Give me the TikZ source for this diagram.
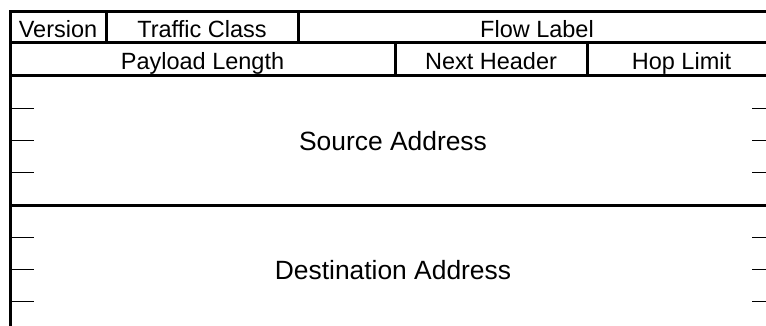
\documentclass[tikz,border=0pt]{standalone}
\usepackage{fontspec}
\setmainfont{Liberation Sans}
\usetikzlibrary{calc}
\begin{document}
\begin{tikzpicture}[x=1pt,y=-1pt,
  field/.style={draw, line width=3pt, rectangle, inner sep=0pt, outer sep=0pt, anchor=north west,
    text height=20pt, text depth=0pt, font=\fontsize{23.5}{28}\selectfont},
  addr/.style={field, font=\fontsize{26.4}{31}\selectfont},
  tickline/.style={line width=1.3pt}]
\useasboundingbox (0,0) rectangle (766,326);
\fill[white] (0,0) rectangle (766,326);
\clip (0,0) rectangle (766,326);
% row 1
\node[field, minimum width=96pt, minimum height=31pt] (ver) at (10,12) {Version};
\node[field, minimum width=192pt, minimum height=31pt] (tc) at (ver.north east) {Traffic Class};
\node[field, minimum width=478pt, minimum height=31pt] (fl) at (tc.north east) {Flow Label};
% row 2
\node[field, minimum width=385pt, minimum height=33pt] (pl) at (ver.south west) {Payload Length};
\node[field, minimum width=192pt, minimum height=33pt] (nh) at (pl.north east) {Next Header};
\node[field, minimum width=189pt, minimum height=33pt] (hl) at (nh.north east) {Hop Limit};
% addresses
\node[addr, minimum width=766pt, minimum height=129pt] (src) at (pl.south west) {Source Address};
\node[addr, minimum width=766pt, minimum height=129pt] (dst) at (src.south west) {Destination Address};
% ticks
\foreach \n in {src,dst}{
  \foreach \f in {0.25,0.5,0.75}{
    \draw[tickline] ($(\n.north west)!\f!(\n.south west)$) -- ++(24,0);
    \draw[tickline] ($(\n.north east)!\f!(\n.south east)$) -- ++(-24,0);
  }
}
\end{tikzpicture}
\end{document}
